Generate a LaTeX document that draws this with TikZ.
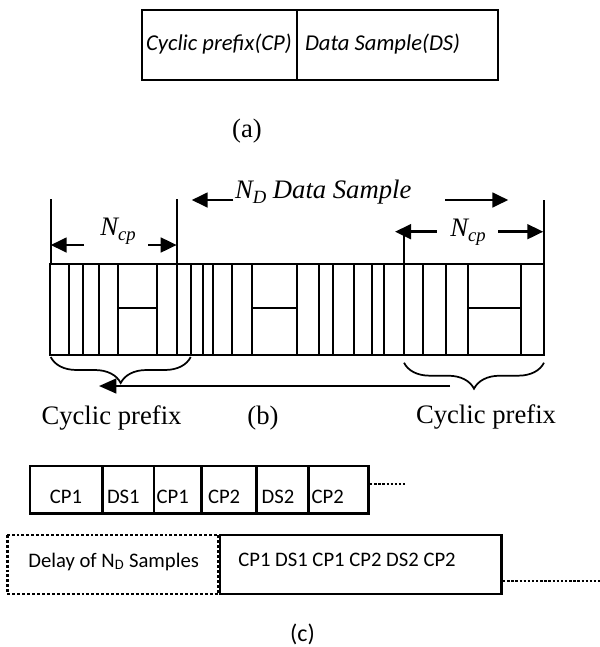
\documentclass[tikz,border=0pt]{standalone}
\usepackage{fontspec}
\setmainfont{Liberation Serif}
\newfontfamily\sansc{Carlito}
\usetikzlibrary{arrows.meta,decorations.pathreplacing}
\newcommand{\lowsub}[1]{\raisebox{-0.22em}{\fontsize{14}{16}\selectfont #1}}
\begin{document}
\begin{tikzpicture}[x=0.75pt,y=-0.75pt,
  every node/.style={inner sep=0pt,outer sep=0pt},
  sertext/.style={font=\fontsize{20}{24}\selectfont},
  serital/.style={font=\itshape\fontsize{20}{24}\selectfont},
  celltext/.style={font=\sansc\fontsize{15.5}{18}\selectfont},
  headtext/.style={font=\sansc\itshape\fontsize{17}{20}\selectfont},
  border/.style={line width=1.5pt},
  cellline/.style={line width=1.3pt},
  heavy/.style={line width=2.2pt},
  dimarrow/.style={line width=2pt,-{Triangle[length=12pt,width=11pt]}},
  longarrow/.style={line width=1.8pt,-{Triangle[length=13pt,width=11pt]}},
  dotline/.style={line width=2.2pt,dash pattern=on 2.2pt off 1.5pt},
  smalldots/.style={line width=1.8pt,dash pattern=on 1.8pt off 1.3pt},
  brace/.style={line width=1.3pt,decorate,decoration={brace,amplitude=19.5pt,mirror}},
]
\useasboundingbox (0,0) rectangle (600,647);

% ---------- (a) frame layout ----------
\draw[border] (142,10) rectangle (498,80);
\draw[line width=2.2pt] (297,10) -- (297,80);
\node[headtext,anchor=base] (cptext) at (219,50) {Cyclic prefix(CP)};
\node[headtext,anchor=base west] (dstext) at (305,50) {Data Sample(DS)};
\node[sertext,anchor=base] (capa) at (247,137) {(a)};

% ---------- (b) sample strip ----------
\draw[border] (50,264) rectangle (544,355);
\foreach \x in {69.3,82.7,99,118.3,156.7,176.7,190.7,203.3,213.3,232.3,252.3,
                296.7,319.3,333.3,354,372,384,404,422.7,445.7,468.3,520.7}
  \draw[cellline] (\x,264) -- (\x,355);
\foreach \a/\b in {118.3/156.7,252.3/296.7,468.3/520.7}
  \draw[cellline] (\a,308.3) -- (\b,308.3);

% left N_cp dimension
\coordinate (lt1) at (50.7,199);   \coordinate (lt1b) at (50.7,264);
\coordinate (lt2) at (176.7,199);  \coordinate (lt2b) at (176.7,264);
\draw[border] (lt1) -- (lt1b);
\draw[border] (lt2) -- (lt2b);
\node[serital,anchor=base] (ncpl) at (118,235) {N\lowsub{cp}};
\coordinate (la1) at (84,245);    \coordinate (la1t) at (50.7,245);
\coordinate (la2) at (148.3,245); \coordinate (la2t) at (176.7,245);
\draw[dimarrow] (la1) -- (la1t);
\draw[dimarrow] (la2) -- (la2t);

% N_D data sample span
\node[serital,anchor=base west] (ndtext) at (235,198) {N\lowsub{D} Data Sample};
\coordinate (na1) at (233.3,200); \coordinate (na1t) at (191.7,200);
\coordinate (na2) at (445,200);   \coordinate (na2t) at (508.3,200);
\draw[dimarrow] (na1) -- (na1t);
\draw[dimarrow] (na2) -- (na2t);

% right N_cp dimension
\coordinate (rt1) at (404,231.7);  \coordinate (rt1b) at (404,264);
\coordinate (rt2) at (544,200);    \coordinate (rt2b) at (544,264);
\draw[border] (rt1) -- (rt1b);
\draw[border] (rt2) -- (rt2b);
\node[serital,anchor=base] (ncpr) at (468,236) {N\lowsub{cp}};
\coordinate (ra1) at (436.7,231.7); \coordinate (ra1t) at (395,231.7);
\coordinate (ra2) at (498.3,231.7); \coordinate (ra2t) at (543.3,231.7);
\draw[dimarrow] (ra1) -- (ra1t);
\draw[dimarrow] (ra2) -- (ra2t);

% braces and copy arrow
\coordinate (lb1) at (50.7,357);  \coordinate (lb2) at (190.7,357);
\coordinate (rb1) at (404,362.7); \coordinate (rb2) at (544,362.7);
\draw[brace] (lb1) -- (lb2);
\draw[brace] (rb1) -- (rb2);
\coordinate (cs) at (450,386);  \coordinate (ce) at (99,386);
\draw[longarrow] (cs) -- (ce);

\node[sertext,anchor=base] (cpl) at (111.5,424) {Cyclic prefix};
\node[sertext,anchor=base] (capb) at (263,424) {(b)};
\node[sertext,anchor=base] (cpr) at (486,423) {Cyclic prefix};

% ---------- (c) transmitted sequences ----------
\draw[heavy] (30,466) rectangle (368.3,513.3);
\foreach \x in {102.7,154,201.7,256.7,308.3}
  \draw[heavy] (\x,466) -- (\x,513.3);
\node[celltext,anchor=base] (c1) at (66,503) {CP1};
\node[celltext,anchor=base west] (c2) at (107,503) {DS1};
\node[celltext,anchor=base west] (c3) at (156.7,503) {CP1};
\node[celltext,anchor=base west] (c4) at (208,503) {CP2};
\node[celltext,anchor=base west] (c5) at (261.7,503) {DS2};
\node[celltext,anchor=base west] (c6) at (311.7,503) {CP2};
\coordinate (td1) at (370,484); \coordinate (td2) at (405,484);
\draw[smalldots] (td1) -- (td2);

\draw[dotline] (7.3,535) rectangle (218.3,594);
\draw[heavy] (220,535) rectangle (501.7,594);
\node[celltext,anchor=base west] (delay) at (28.3,567) {Delay of N\textsubscript{D} Samples};
\node[celltext,anchor=base west] (seq) at (238.3,566) {CP1 DS1 CP1 CP2 DS2 CP2};
\coordinate (bd1) at (503,581); \coordinate (bd2) at (600,581);
\draw[smalldots] (bd1) -- (bd2);
\node[font=\sansc\fontsize{18}{20}\selectfont,anchor=base] (capc) at (302.5,641) {(c)};
\end{tikzpicture}
\end{document}
